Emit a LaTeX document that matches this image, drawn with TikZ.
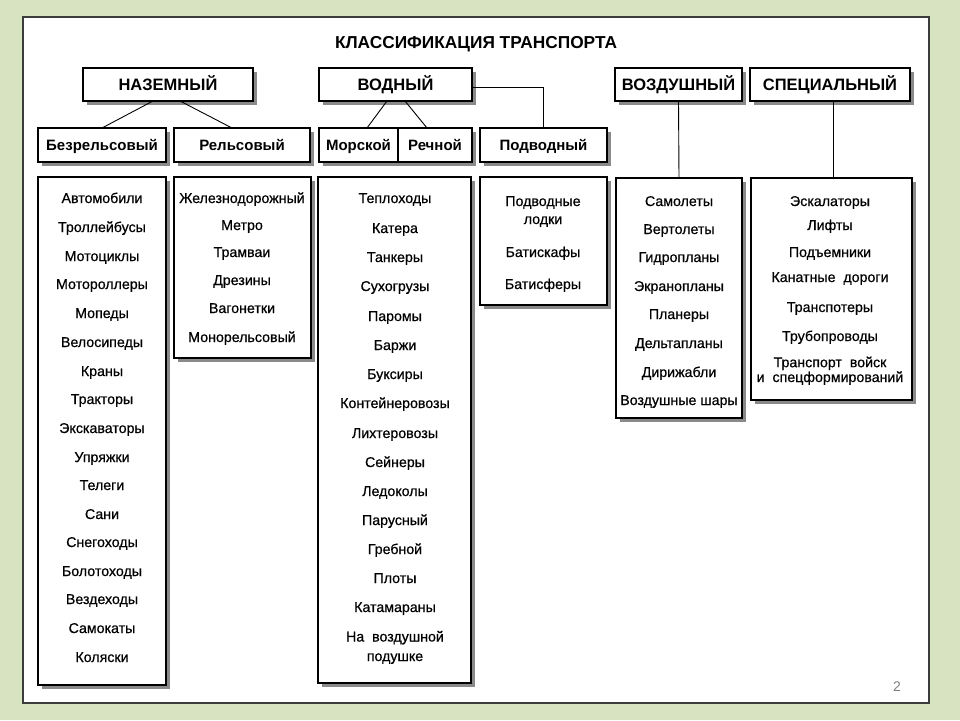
\documentclass[tikz,border=0pt]{standalone}
\usepackage{fontspec}
\setmainfont{Liberation Sans}
\newfontfamily\itmfont{Liberation Sans}[FakeBold=0.6]
\usetikzlibrary{calc}
\definecolor{bgc}{HTML}{D8E3C1}
\definecolor{shadowc}{HTML}{8A8A8A}
\definecolor{framec}{HTML}{3C3C3C}
\begin{document}
\begin{tikzpicture}[x=1pt,y=-1pt,
  shbox/.style={draw=black, line width=1.3pt, fill=white, inner sep=0pt, outer sep=0pt,
    preaction={fill=shadowc, transform canvas={shift={(4pt,-4pt)}}}},
  hdr/.style={shbox, font=\fontsize{16.5}{18}\selectfont\bfseries, minimum height=33pt, text height=11.8pt, text depth=0pt},
  sub/.style={shbox, font=\fontsize{15}{17}\selectfont\bfseries, minimum height=34pt, text height=10.8pt, text depth=0pt},
  lst/.style={shbox},
  itm/.style={anchor=base, inner sep=0pt, align=center, font=\itmfont\fontsize{14.2}{18}\selectfont},
  conn/.style={draw=black, line width=0.9pt}
]
\useasboundingbox (0,0) rectangle (960,720);
\fill[bgc] (0,0) rectangle (960,720);
\node[draw=framec, line width=1.4pt, fill=white, minimum width=906pt, minimum height=686pt, inner sep=0pt] (panel) at (476,360) {};
\node[font=\fontsize{17.3}{19}\selectfont\bfseries] (title) at (476,44) {КЛАССИФИКАЦИЯ ТРАНСПОРТА};

% top row
\node[hdr, minimum width=170pt] (naz) at (168,84.5) {НАЗЕМНЫЙ};
\node[hdr, minimum width=153pt] (vod) at (395.5,84.5) {ВОДНЫЙ};
\node[hdr, minimum width=127pt] (air) at (678.5,84.5) {ВОЗДУШНЫЙ};
\node[hdr, minimum width=160pt] (spec) at (830,84.5) {СПЕЦИАЛЬНЫЙ};

% second row
\node[sub, minimum width=128pt] (bez) at (102,145) {Безрельсовый};
\node[sub, minimum width=136pt] (rel) at (242,145) {Рельсовый};
\node[sub, minimum width=79pt] (mor) at (358.5,145) {Морской};
\node[sub, minimum width=74pt] (rech) at (435,145) {Речной};
\node[sub, minimum width=127pt] (pod) at (543.5,145) {Подводный};

% list boxes
\node[lst, minimum width=128pt, minimum height=508pt] (bezL) at (102,431) {};
\node[lst, minimum width=137pt, minimum height=181pt] (relL) at (242.5,267.5) {};
\node[lst, minimum width=153pt, minimum height=506pt] (vodL) at (394.5,430) {};
\node[lst, minimum width=127pt, minimum height=128pt] (podL) at (543.5,241) {};
\node[lst, minimum width=126pt, minimum height=240pt] (airL) at (679,298) {};
\node[lst, minimum width=161pt, minimum height=222pt] (specL) at (831.5,289) {};

% connectors
\draw[conn] ([xshift=-15pt]naz.south) -- (bez.north);
\draw[conn] ([xshift=12pt]naz.south) -- ([xshift=-10pt]rel.north);
\draw[conn] ([xshift=-8.5pt]vod.south) -- ([xshift=8.5pt]mor.north);
\draw[conn] ([xshift=9.5pt]vod.south) -- ([xshift=-8pt]rech.north);
\draw[conn] ([yshift=-2.5pt]vod.east) -| (pod.north);
\draw[conn] (air.south) -- (airL.north);
\draw[conn] ([xshift=3pt]spec.south) -- ([xshift=1.5pt]specL.north);

% items: Безрельсовый
\foreach \t/\yy [count=\i] in {Автомобили/198,Троллейбусы/227,Мотоциклы/256,Мотороллеры/284,Мопеды/313,Велосипеды/342,Краны/371,Тракторы/399,Экскаваторы/428,Упряжки/457,Телеги/485,Сани/514,Снегоходы/542,Болотоходы/571,Вездеходы/599,Самокаты/628,Коляски/657}
  \node[itm] (b\i) at (102,\yy+5) {\t};
% Рельсовый
\foreach \t/\yy [count=\i] in {Железнодорожный/198,Метро/225,Трамваи/252,Дрезины/280,Вагонетки/308,Монорельсовый/337}
  \node[itm] (r\i) at (242,\yy+5) {\t};
% Водный
\foreach \t/\yy [count=\i] in {Теплоходы/198,Катера/228,Танкеры/257,Сухогрузы/286,Паромы/316,Баржи/345,Буксиры/374,Контейнеровозы/403,Лихтеровозы/433,Сейнеры/462,Ледоколы/491,Парусный/520,Гребной/549,Плоты/578,Катамараны/607}
  \node[itm] (w\i) at (395,\yy+5) {\t};
\node[itm, font=\itmfont\fontsize{14.2}{19.5}\selectfont] (w16) at (395,656+5) {На\ \ воздушной\\подушке};
% Подводный
\node[itm] (p1) at (543,219+5) {Подводные\\лодки};
\node[itm] (p2) at (543,252+5) {Батискафы};
\node[itm] (p3) at (543,284+5) {Батисферы};
% Воздушный
\foreach \t/\yy [count=\i] in {Самолеты/201,Вертолеты/229,Гидропланы/257,Экранопланы/286,Планеры/314,Дельтапланы/343,Дирижабли/372,{Воздушные\ шары}/400}
  \node[itm] (a\i) at (679,\yy+5) {\t};
% Специальный
\foreach \t/\yy [count=\i] in {Эскалаторы/201,Лифты/225,Подъемники/252,{Канатные\ \ дороги}/277,Транспотеры/307,Трубопроводы/336}
  \node[itm] (s\i) at (830,\yy+5) {\t};
\node[itm, font=\itmfont\fontsize{14.2}{14.8}\selectfont] (s7) at (830,377+5) {Транспорт\ \ войск\\и\ \ спецформирований};

\node[text=gray, font=\fontsize{14}{16}\selectfont] (pnum) at (897,687) {2};
\end{tikzpicture}
\end{document}
